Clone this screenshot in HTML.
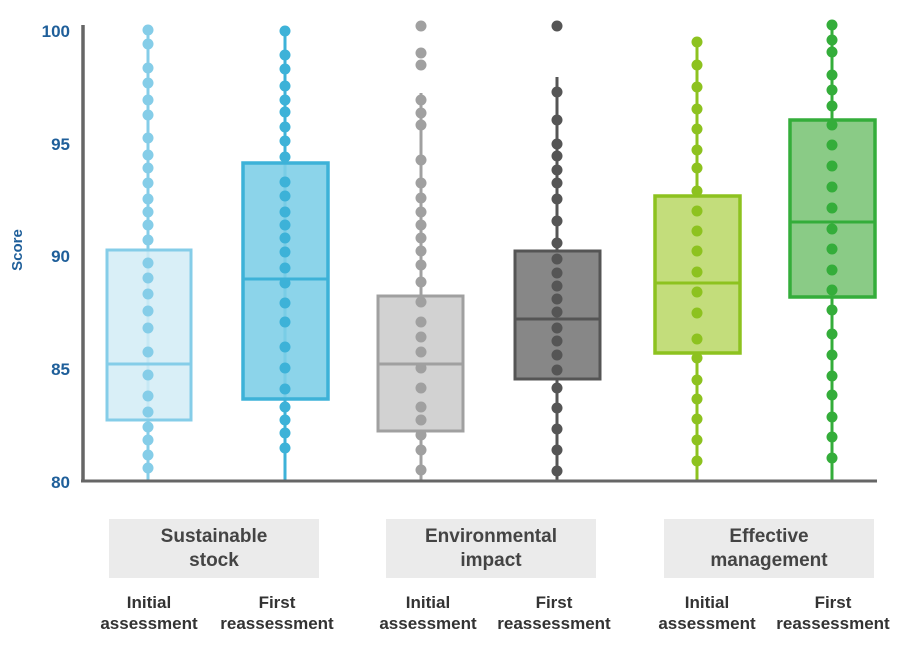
<!DOCTYPE html>
<html><head><meta charset="utf-8"><style>
html,body{margin:0;padding:0;background:#fff;}
svg{display:block;font-family:"Liberation Sans",sans-serif;}
</style></head><body>
<svg width="900" height="651" viewBox="0 0 900 651">
<!-- axis labels -->
<g fill="#1f5f9a" font-weight="bold" font-size="17" text-anchor="end">
<text x="70" y="37">100</text><text x="70" y="150">95</text><text x="70" y="262">90</text><text x="70" y="375">85</text><text x="70" y="488">80</text>
</g>
<text transform="translate(22,250) rotate(-90)" fill="#1f5f9a" font-weight="bold" font-size="15" text-anchor="middle">Score</text>

<!-- G1 -->
<g stroke="#85cde8" fill="#85cde8">
<line x1="148" y1="30" x2="148" y2="480" stroke-width="3"/>
<rect x="107" y="250" width="84" height="170" fill="#d2ecf6" fill-opacity="0.85" stroke-width="3"/>
<line x1="107" y1="364" x2="191" y2="364" stroke-width="3"/>
<g stroke="none">
<circle cx="148" cy="30" r="5.5"/><circle cx="148" cy="44" r="5.5"/><circle cx="148" cy="68" r="5.5"/><circle cx="148" cy="83" r="5.5"/><circle cx="148" cy="100" r="5.5"/><circle cx="148" cy="115" r="5.5"/><circle cx="148" cy="138" r="5.5"/><circle cx="148" cy="155" r="5.5"/><circle cx="148" cy="168" r="5.5"/><circle cx="148" cy="183" r="5.5"/><circle cx="148" cy="199" r="5.5"/><circle cx="148" cy="212" r="5.5"/><circle cx="148" cy="225" r="5.5"/><circle cx="148" cy="240" r="5.5"/><circle cx="148" cy="263" r="5.5"/><circle cx="148" cy="278" r="5.5"/><circle cx="148" cy="294" r="5.5"/><circle cx="148" cy="311" r="5.5"/><circle cx="148" cy="328" r="5.5"/><circle cx="148" cy="352" r="5.5"/><circle cx="148" cy="375" r="5.5"/><circle cx="148" cy="396" r="5.5"/><circle cx="148" cy="412" r="5.5"/><circle cx="148" cy="427" r="5.5"/><circle cx="148" cy="440" r="5.5"/><circle cx="148" cy="455" r="5.5"/><circle cx="148" cy="468" r="5.5"/>
</g></g>

<!-- G2 -->
<g stroke="#3db2d8" fill="#3db2d8">
<line x1="285" y1="31" x2="285" y2="480" stroke-width="3"/>
<rect x="243" y="163" width="85" height="236" fill="#7fcfe8" fill-opacity="0.9" stroke-width="3.5"/>
<line x1="243" y1="279" x2="328" y2="279" stroke-width="3"/>
<g stroke="none">
<circle cx="285" cy="31" r="5.5"/><circle cx="285" cy="55" r="5.5"/><circle cx="285" cy="69" r="5.5"/><circle cx="285" cy="86" r="5.5"/><circle cx="285" cy="100" r="5.5"/><circle cx="285" cy="112" r="5.5"/><circle cx="285" cy="127" r="5.5"/><circle cx="285" cy="141" r="5.5"/><circle cx="285" cy="157" r="5.5"/><circle cx="285" cy="182" r="5.5"/><circle cx="285" cy="196" r="5.5"/><circle cx="285" cy="212" r="5.5"/><circle cx="285" cy="225" r="5.5"/><circle cx="285" cy="238" r="5.5"/><circle cx="285" cy="252" r="5.5"/><circle cx="285" cy="268" r="5.5"/><circle cx="285" cy="283" r="5.5"/><circle cx="285" cy="303" r="5.5"/><circle cx="285" cy="322" r="5.5"/><circle cx="285" cy="347" r="5.5"/><circle cx="285" cy="368" r="5.5"/><circle cx="285" cy="389" r="5.5"/><circle cx="285" cy="407" r="5.5"/><circle cx="285" cy="420" r="5.5"/><circle cx="285" cy="433" r="5.5"/><circle cx="285" cy="448" r="5.5"/>
</g></g>

<!-- G3 -->
<g stroke="#a0a0a0" fill="#a0a0a0">
<line x1="421" y1="93" x2="421" y2="480" stroke-width="3"/>
<rect x="378" y="296" width="85" height="135" fill="#d2d2d2" stroke-width="3"/>
<line x1="378" y1="364" x2="463" y2="364" stroke-width="3"/>
<g stroke="none">
<circle cx="421" cy="26" r="5.5"/><circle cx="421" cy="53" r="5.5"/><circle cx="421" cy="65" r="5.5"/><circle cx="421" cy="100" r="5.5"/><circle cx="421" cy="113" r="5.5"/><circle cx="421" cy="125" r="5.5"/><circle cx="421" cy="160" r="5.5"/><circle cx="421" cy="183" r="5.5"/><circle cx="421" cy="198" r="5.5"/><circle cx="421" cy="212" r="5.5"/><circle cx="421" cy="225" r="5.5"/><circle cx="421" cy="238" r="5.5"/><circle cx="421" cy="251" r="5.5"/><circle cx="421" cy="265" r="5.5"/><circle cx="421" cy="282" r="5.5"/><circle cx="421" cy="302" r="5.5"/><circle cx="421" cy="322" r="5.5"/><circle cx="421" cy="337" r="5.5"/><circle cx="421" cy="352" r="5.5"/><circle cx="421" cy="368" r="5.5"/><circle cx="421" cy="388" r="5.5"/><circle cx="421" cy="407" r="5.5"/><circle cx="421" cy="420" r="5.5"/><circle cx="421" cy="435" r="5.5"/><circle cx="421" cy="450" r="5.5"/><circle cx="421" cy="470" r="5.5"/>
</g></g>

<!-- G4 -->
<g stroke="#555555" fill="#555555">
<line x1="557" y1="77" x2="557" y2="480" stroke-width="3"/>
<rect x="515" y="251" width="85" height="128" fill="#878787" stroke-width="3"/>
<line x1="515" y1="319" x2="600" y2="319" stroke-width="3"/>
<g stroke="none">
<circle cx="557" cy="26" r="5.5"/><circle cx="557" cy="92" r="5.5"/><circle cx="557" cy="120" r="5.5"/><circle cx="557" cy="144" r="5.5"/><circle cx="557" cy="156" r="5.5"/><circle cx="557" cy="170" r="5.5"/><circle cx="557" cy="183" r="5.5"/><circle cx="557" cy="199" r="5.5"/><circle cx="557" cy="221" r="5.5"/><circle cx="557" cy="243" r="5.5"/><circle cx="557" cy="259" r="5.5"/><circle cx="557" cy="273" r="5.5"/><circle cx="557" cy="286" r="5.5"/><circle cx="557" cy="299" r="5.5"/><circle cx="557" cy="312" r="5.5"/><circle cx="557" cy="328" r="5.5"/><circle cx="557" cy="341" r="5.5"/><circle cx="557" cy="355" r="5.5"/><circle cx="557" cy="370" r="5.5"/><circle cx="557" cy="388" r="5.5"/><circle cx="557" cy="408" r="5.5"/><circle cx="557" cy="429" r="5.5"/><circle cx="557" cy="450" r="5.5"/><circle cx="557" cy="471" r="5.5"/>
</g></g>

<!-- G5 -->
<g stroke="#8dc21f" fill="#8dc21f">
<line x1="697" y1="42" x2="697" y2="480" stroke-width="3"/>
<rect x="655" y="196" width="85" height="157" fill="#c3dd7b" stroke-width="3.5"/>
<line x1="655" y1="283" x2="740" y2="283" stroke-width="3"/>
<g stroke="none">
<circle cx="697" cy="42" r="5.5"/><circle cx="697" cy="65" r="5.5"/><circle cx="697" cy="87" r="5.5"/><circle cx="697" cy="109" r="5.5"/><circle cx="697" cy="129" r="5.5"/><circle cx="697" cy="150" r="5.5"/><circle cx="697" cy="168" r="5.5"/><circle cx="697" cy="191" r="5.5"/><circle cx="697" cy="211" r="5.5"/><circle cx="697" cy="231" r="5.5"/><circle cx="697" cy="251" r="5.5"/><circle cx="697" cy="272" r="5.5"/><circle cx="697" cy="292" r="5.5"/><circle cx="697" cy="313" r="5.5"/><circle cx="697" cy="339" r="5.5"/><circle cx="697" cy="358" r="5.5"/><circle cx="697" cy="380" r="5.5"/><circle cx="697" cy="399" r="5.5"/><circle cx="697" cy="419" r="5.5"/><circle cx="697" cy="440" r="5.5"/><circle cx="697" cy="461" r="5.5"/>
</g></g>

<!-- G6 -->
<g stroke="#34ad3a" fill="#34ad3a">
<line x1="832" y1="25" x2="832" y2="480" stroke-width="3"/>
<rect x="790" y="120" width="85" height="177" fill="#8acb86" stroke-width="3.5"/>
<line x1="790" y1="222" x2="875" y2="222" stroke-width="3"/>
<g stroke="none">
<circle cx="832" cy="25" r="5.5"/><circle cx="832" cy="40" r="5.5"/><circle cx="832" cy="52" r="5.5"/><circle cx="832" cy="75" r="5.5"/><circle cx="832" cy="90" r="5.5"/><circle cx="832" cy="106" r="5.5"/><circle cx="832" cy="125" r="5.5"/><circle cx="832" cy="145" r="5.5"/><circle cx="832" cy="166" r="5.5"/><circle cx="832" cy="187" r="5.5"/><circle cx="832" cy="208" r="5.5"/><circle cx="832" cy="229" r="5.5"/><circle cx="832" cy="249" r="5.5"/><circle cx="832" cy="270" r="5.5"/><circle cx="832" cy="290" r="5.5"/><circle cx="832" cy="310" r="5.5"/><circle cx="832" cy="334" r="5.5"/><circle cx="832" cy="355" r="5.5"/><circle cx="832" cy="376" r="5.5"/><circle cx="832" cy="395" r="5.5"/><circle cx="832" cy="417" r="5.5"/><circle cx="832" cy="437" r="5.5"/><circle cx="832" cy="458" r="5.5"/>
</g></g>

<!-- axes -->
<line x1="83" y1="25" x2="83" y2="482" stroke="#666" stroke-width="3.5"/>
<line x1="81" y1="481" x2="877" y2="481" stroke="#666" stroke-width="3"/>

<!-- category boxes -->
<rect x="109" y="519" width="210" height="59" fill="#ebebeb"/>
<rect x="386" y="519" width="210" height="59" fill="#ebebeb"/>
<rect x="664" y="519" width="210" height="59" fill="#ebebeb"/>
<g fill="#444" font-weight="bold" font-size="19" text-anchor="middle">
<text x="214" y="542">Sustainable</text><text x="214" y="566">stock</text>
<text x="491" y="542">Environmental</text><text x="491" y="566">impact</text>
<text x="769" y="542">Effective</text><text x="769" y="566">management</text>
</g>
<g fill="#333" font-weight="bold" font-size="17" text-anchor="middle">
<text x="149" y="608">Initial</text><text x="149" y="629">assessment</text>
<text x="277" y="608">First</text><text x="277" y="629">reassessment</text>
<text x="428" y="608">Initial</text><text x="428" y="629">assessment</text>
<text x="554" y="608">First</text><text x="554" y="629">reassessment</text>
<text x="707" y="608">Initial</text><text x="707" y="629">assessment</text>
<text x="833" y="608">First</text><text x="833" y="629">reassessment</text>
</g>
</svg>
</body></html>
